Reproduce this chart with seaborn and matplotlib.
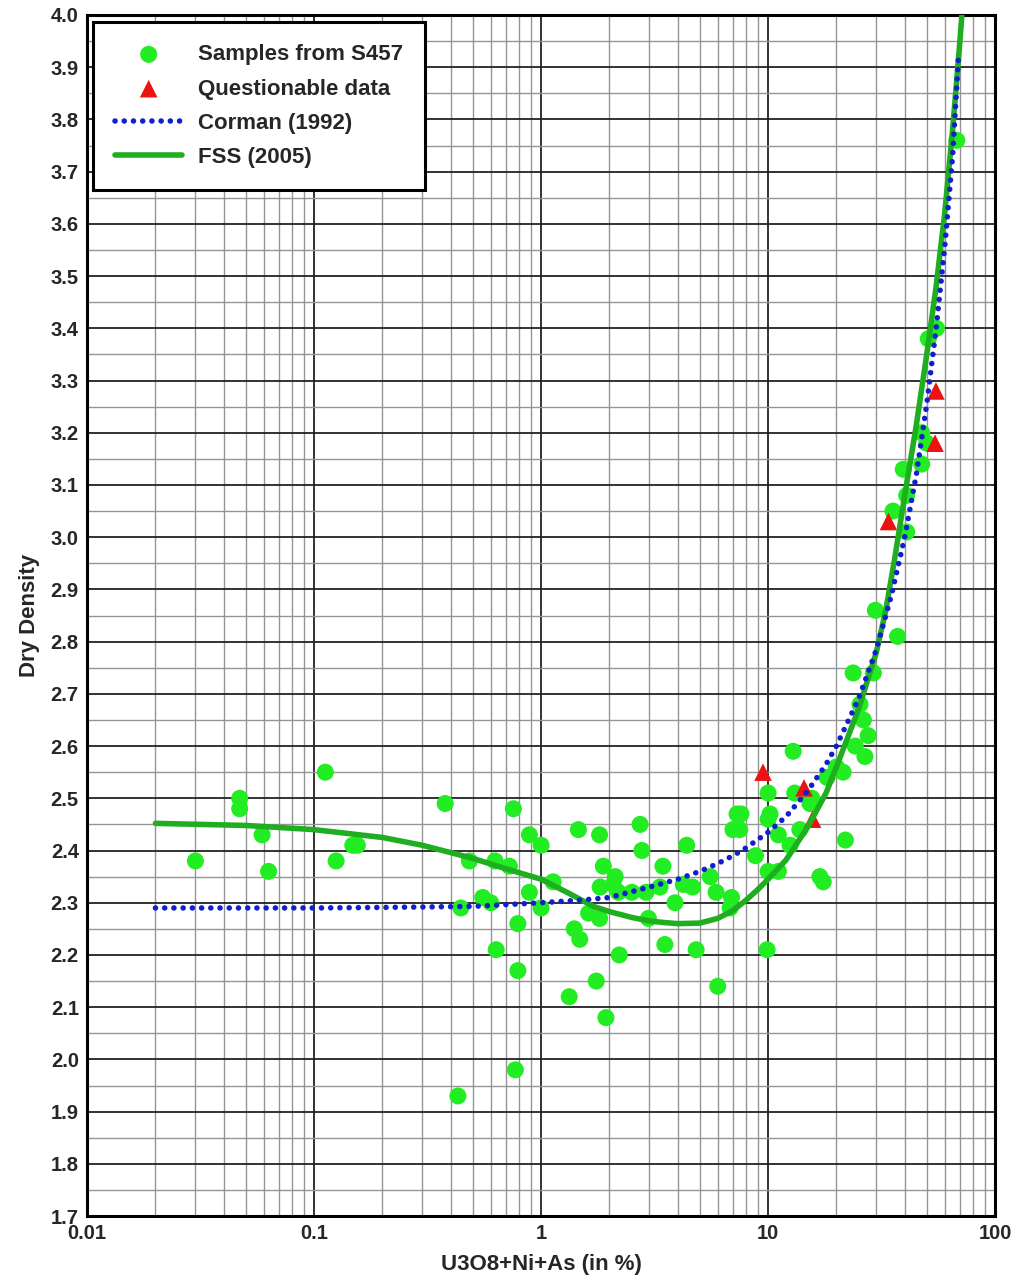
import numpy as np
import pandas as pd
import matplotlib
matplotlib.use("Agg")
import matplotlib.pyplot as plt
import matplotlib.ticker as mticker
import seaborn as sns

# samples from S457
sample_x = [0.030, 0.047, 0.047, 0.059, 0.063, 0.112, 0.125, 0.148, 0.155,
            0.378, 0.443, 0.43, 0.483, 0.553, 0.60, 0.627, 0.634, 0.725, 0.755,
            0.77, 0.79, 0.79, 0.888, 0.888, 1.0, 1.0, 1.13, 1.33, 1.40, 1.46,
            1.48, 1.62, 1.75, 1.81, 1.81, 1.82, 1.88, 1.93, 2.08, 2.12, 2.19,
            2.21, 2.51, 2.73, 2.78, 2.90, 2.97, 3.34, 3.44, 3.51, 3.89, 4.23,
            4.38, 4.65, 4.82, 5.56, 5.9, 6.0, 6.8, 6.9, 7.0, 7.5, 7.3, 7.6,
            8.8, 9.9, 10.0, 10.0, 10.2, 10.0, 11.1, 11.1, 12.5, 12.9, 13.1,
            13.8, 15.3, 15.6, 16.9, 17.5, 18.2, 20.0, 21.4, 21.9, 23.7, 24.2,
            25.4, 26.3, 26.7, 27.6, 29.1, 29.7, 35.5, 37.2, 39.4, 40.8, 40.8,
            47.5, 47.5, 50.0, 50.8, 55.2, 67.8]
sample_y = [2.38, 2.50, 2.48, 2.43, 2.36, 2.55, 2.38, 2.41, 2.41,
            2.49, 2.29, 1.93, 2.38, 2.31, 2.30, 2.38, 2.21, 2.37, 2.48,
            1.98, 2.26, 2.17, 2.43, 2.32, 2.41, 2.29, 2.34, 2.12, 2.25, 2.44,
            2.23, 2.28, 2.15, 2.43, 2.27, 2.33, 2.37, 2.08, 2.335, 2.35, 2.32,
            2.20, 2.32, 2.45, 2.40, 2.32, 2.27, 2.33, 2.37, 2.22, 2.30, 2.335,
            2.41, 2.33, 2.21, 2.35, 2.32, 2.14, 2.29, 2.31, 2.44, 2.44, 2.47, 2.47,
            2.39, 2.21, 2.51, 2.46, 2.47, 2.36, 2.36, 2.43, 2.41, 2.59, 2.51,
            2.44, 2.49, 2.50, 2.35, 2.34, 2.54, 2.56, 2.55, 2.42, 2.74, 2.60,
            2.68, 2.65, 2.58, 2.62, 2.74, 2.86, 3.05, 2.81, 3.13, 3.08, 3.01,
            3.14, 3.20, 3.18, 3.38, 3.40, 3.76]

# questionable data
quest_x = [9.5, 14.4, 15.7, 33.9, 54.4, 54.9]
quest_y = [2.55, 2.52, 2.46, 3.03, 3.18, 3.28]

# Corman (1992) curve
corman_x = [0.02, 0.05, 0.1, 0.2, 0.5, 1.0, 1.5, 2.0, 3.0, 4.0, 5.0, 6.0, 7.0,
            8.0, 10, 12, 15, 18, 20, 25, 30, 35, 40, 45, 50, 55, 60, 65, 69]
corman_y = [2.29, 2.29, 2.29, 2.291, 2.293, 2.30, 2.305, 2.31, 2.33, 2.345,
            2.36, 2.375, 2.39, 2.405, 2.435, 2.465, 2.515, 2.565, 2.60, 2.69,
            2.785, 2.89, 3.00, 3.12, 3.255, 3.40, 3.555, 3.73, 3.92]

# FSS (2005) curve
fss_x = [0.02, 0.05, 0.1, 0.2, 0.3, 0.5, 0.7, 1.0, 1.3, 1.7, 2.0, 2.5, 3.0,
         3.5, 4.0, 5.0, 6.0, 7.0, 8.0, 9.0, 10, 12, 15, 18, 20, 25, 30, 33,
         36, 40, 45, 50, 55, 60, 65, 70, 72]
fss_y = [2.452, 2.448, 2.44, 2.425, 2.41, 2.385, 2.365, 2.345, 2.32, 2.293,
         2.283, 2.272, 2.265, 2.262, 2.26, 2.261, 2.27, 2.285, 2.305, 2.325,
         2.345, 2.382, 2.446, 2.51, 2.56, 2.67, 2.78, 2.86, 2.955, 3.08, 3.215,
         3.35, 3.48, 3.62, 3.78, 3.95, 4.02]

samples = pd.DataFrame({"x": sample_x, "y": sample_y})
quest = pd.DataFrame({"x": quest_x, "y": quest_y})
corman = pd.DataFrame({"x": corman_x, "y": corman_y})
fss = pd.DataFrame({"x": fss_x, "y": fss_y})

sns.set_style("white")
plt.rcParams['font.family'] = ['Liberation Sans', 'DejaVu Sans']
plt.rcParams['font.weight'] = 'bold'

fig = plt.figure(figsize=(10.25, 12.81), dpi=100)
ax = fig.add_axes([0.085, 0.0507, 0.8858, 0.9376])

sns.scatterplot(data=samples, x="x", y="y", ax=ax, color="#22ec22", s=150,
                edgecolor="none", zorder=3, label="Samples from S457")
sns.scatterplot(data=quest, x="x", y="y", ax=ax, color="#ee1111", marker="^",
                s=160, edgecolor="none", zorder=3, label="Questionable data")
sns.lineplot(data=corman, x="x", y="y", ax=ax, color="#1020cc", lw=4.0,
             linestyle=(0, (0.01, 1.65)), dash_capstyle="round", zorder=5,
             label="Corman (1992)", sort=False)
sns.lineplot(data=fss, x="x", y="y", ax=ax, color="#1fae1f", lw=4,
             zorder=4, label="FSS (2005)", sort=False)

ax.set_xscale("log")
ax.set_xlim(0.01, 100)
ax.set_ylim(1.7, 4.0)
ax.yaxis.set_major_locator(mticker.MultipleLocator(0.1))
ax.yaxis.set_minor_locator(mticker.MultipleLocator(0.05))
ax.yaxis.set_major_formatter(mticker.FormatStrFormatter("%.1f"))
ax.xaxis.set_major_locator(mticker.LogLocator(base=10, numticks=10))
ax.xaxis.set_minor_locator(mticker.LogLocator(base=10, subs=np.arange(2, 10), numticks=20))
ax.xaxis.set_minor_formatter(mticker.NullFormatter())
ax.xaxis.set_major_formatter(mticker.FuncFormatter(lambda v, p: f"{v:g}"))

ax.grid(which="major", color="#222222", lw=1.3, zorder=0)
ax.grid(which="minor", color="#959595", lw=1.0, zorder=0)
ax.set_axisbelow(True)
for sp in ax.spines.values():
    sp.set_linewidth(2.2)
    sp.set_color("black")

ax.tick_params(which="both", length=0, labelsize=14.5, pad=6)
for lab in ax.get_xticklabels() + ax.get_yticklabels():
    lab.set_fontweight("bold")

ax.set_xlabel("U3O8+Ni+As (in %)", fontsize=16, fontweight="bold", labelpad=8)
ax.set_ylabel("Dry Density", fontsize=16, fontweight="bold", labelpad=8)

leg = ax.legend(loc="upper left", bbox_to_anchor=(0.0066, 0.9942), fontsize=16,
                frameon=True, fancybox=False, framealpha=1, edgecolor="black",
                handlelength=3.0, borderpad=1.0, labelspacing=0.6,
                handletextpad=0.7, borderaxespad=0)
leg.get_frame().set_linewidth(2.2)
for t in leg.get_texts():
    t.set_fontweight("bold")

fig.savefig("out.png", dpi=100)
